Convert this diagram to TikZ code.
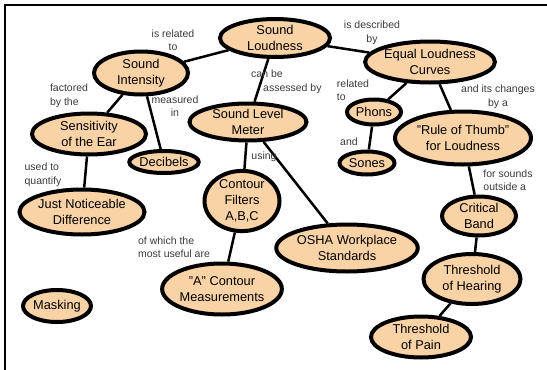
\documentclass[tikz,border=0pt]{standalone}
\usepackage{fontspec}
\setmainfont{Liberation Sans}
\usepackage{xcolor}
\usepackage{tikz}
\usetikzlibrary{shapes.geometric}
\definecolor{peach}{HTML}{F9D2A6}
\definecolor{linkgray}{HTML}{3A3A3A}
\tikzset{
    concept/.style={ellipse, draw=black, line width=4pt, fill=peach, inner sep=0pt, align=center, font=\fontsize{12.8}{16}\selectfont},
    linktext/.style={font=\fontsize{10.5}{13.5}\selectfont, color=linkgray, align=center, inner sep=0pt},
    conn/.style={line width=2.5pt, black}
}

\begin{document}
\begin{tikzpicture}[x=1pt, y=-1pt]
        \useasboundingbox (0,0) rectangle (547,370);
        % frame on top and left
        \draw[line width=1.5pt] (5,370) -- (5,5) -- (547,5);

        % Concepts
        \node[concept, minimum width=110pt, minimum height=38pt] (loud) at (275,38) {Sound\\Loudness};
        \node[concept, minimum width=94pt, minimum height=43pt] (inten) at (141,73) {Sound\\Intensity};
        \node[concept, minimum width=126pt, minimum height=41pt] (equal) at (430,62) {Equal Loudness\\Curves};
        \node[concept, minimum width=114pt, minimum height=41pt] (sens) at (89,134) {Sensitivity\\of the Ear};
        \node[concept, minimum width=62pt, minimum height=22pt] (decib) at (164,162) {Decibels};
        \node[concept, minimum width=117pt, minimum height=37pt] (meter) at (248,122) {Sound Level\\Meter};
        \node[concept, minimum width=54pt, minimum height=25pt] (phons) at (374,112) {Phons};
        \node[concept, minimum width=55pt, minimum height=23pt] (sones) at (367,163) {Sones};
        \node[concept, minimum width=136pt, minimum height=53pt] (thumb) at (463,138) {"Rule of Thumb"\\for Loudness};
        \node[concept, minimum width=125pt, minimum height=45pt] (jnd) at (82,212) {Just Noticeable\\Difference};
        \node[concept, minimum width=75pt, minimum height=55pt] (filt) at (242,201) {Contour\\Filters\\A,B,C};
        \node[concept, minimum width=136pt, minimum height=47pt] (osha) at (347,248) {OSHA Workplace\\Standards};
        \node[concept, minimum width=74pt, minimum height=39pt] (band) at (479,216) {Critical\\Band};
        \node[concept, minimum width=97pt, minimum height=50pt] (hear) at (472,279) {Threshold\\of Hearing};
        \node[concept, minimum width=100pt, minimum height=41pt] (pain) at (421,337) {Threshold\\of Pain};
        \node[concept, minimum width=114pt, minimum height=51pt] (acont) at (222,289) {"A" Contour\\Measurements};
        \node[concept, minimum width=68pt, minimum height=32pt] (mask) at (57,306) {Masking};

        % Connectors
        \draw[conn] (loud) -- (inten);
        \draw[conn] (loud) -- (equal);
        \draw[conn] (loud) -- (meter);
        \draw[conn] (inten) -- (sens);
        \draw[conn] (inten) -- (decib);
        \draw[conn] (sens) -- (jnd);
        \draw[conn] (meter) -- (filt);
        \draw[conn] (meter) -- (osha);
        \draw[conn] (filt) -- (acont);
        \draw[conn] (equal) -- (phons);
        \draw[conn] (equal) -- (thumb);
        \draw[conn] (phons) -- (sones);
        \draw[conn] (thumb) -- (band);
        \draw[conn] (band) -- (hear);
        \draw[conn] (hear) -- (pain);

        % Linking phrases
        \node[linktext] (l1) at (173,40) {is related\\to};
        \node[linktext, align=left] (l2) at (69,96) {factored\\by the};
        \node[linktext] (l3) at (175,106) {measured\\in};
        \node[linktext, align=left, anchor=west] (l4) at (251,82) {can be\\\hspace*{12pt}assessed by};
        \node[linktext] (l5) at (264,157) {using};
        \node[linktext, align=left] (l6) at (43,175) {used to\\quantify};
        \node[linktext] (l7) at (372,33) {is described\\by};
        \node[linktext, align=left] (l8) at (353,90) {related\\to};
        \node[linktext] (l9) at (498,97) {and its changes\\by a};
        \node[linktext] (l10) at (349,142) {and};
        \node[linktext, align=left] (l11) at (508,180) {for sounds\\outside a};
        \node[linktext, align=left] (l12) at (174,247) {of which the\\most useful are};
    \end{tikzpicture}
\end{document}
